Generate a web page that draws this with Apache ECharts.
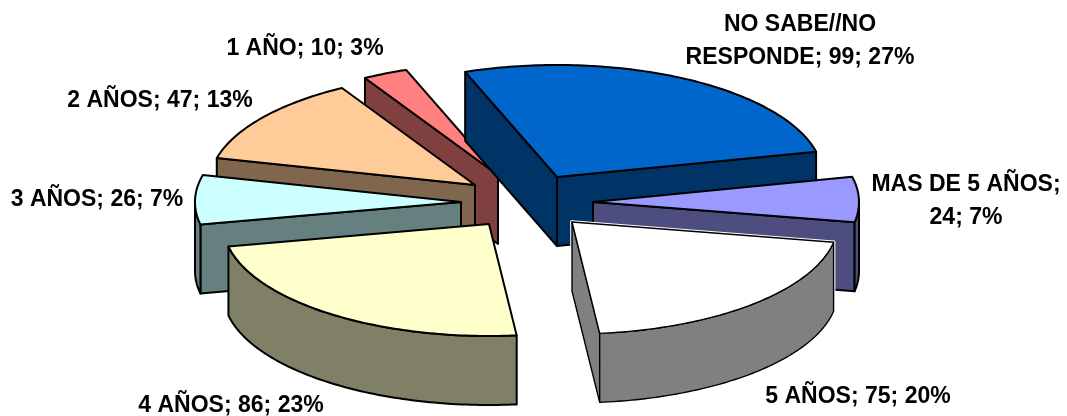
<!DOCTYPE html>
<html>
<head>
<meta charset="utf-8">
<style>html,body{margin:0;padding:0;background:#fff}#c{width:1067px;height:416px}</style>
<script src="https://cdn.jsdelivr.net/npm/echarts@6/dist/echarts.min.js"></script>
</head>
<body>
<div id="c"></div>
<script>
var categories = ['NO SABE//NO RESPONDE', 'MAS DE 5 AÑOS', '5 AÑOS', '4 AÑOS', '3 AÑOS', '2 AÑOS', '1 AÑO'];
var values = [99, 24, 75, 86, 26, 47, 10];
var topColors = ['#0066CC', '#9999FF', '#FFFFFF', '#FFFFCC', '#CCFFFF', '#FFCC99', '#FF8080'];
var wallColors = ['#003366', '#4D4D80', '#808080', '#808066', '#668080', '#80664D', '#804040'];
var apexX = [557, 593, 572, 489, 461, 475, 498];
var apexY = [177, 202, 222, 224, 202, 185, 175];
var labelLines = [['NO SABE//NO', 'RESPONDE; 99; 27%'], ['MAS DE 5 AÑOS;', '24; 7%'], ['5 AÑOS; 75; 20%'], ['4 AÑOS; 86; 23%'], ['3 AÑOS; 26; 7%'], ['2 AÑOS; 47; 13%'], ['1 AÑO; 10; 3%']];
var labelX = [800, 966, 858, 231, 97, 160, 305];
var labelY = [41, 201, 397, 406, 200, 101, 49];
var paintOrder = [6, 0, 5, 4, 1, 3, 2];
var haloSlice = 2;

var RX = 266, RY = 112, DEPTH = 69, START = 110.2, LINE = 2;
var total = values.reduce(function (a, b) { return a + b; }, 0);
var starts = [];
values.reduce(function (acc, v, i) { starts[i] = acc; return acc - v / total * 360; }, START);

function pt(i, deg, dz) {
  var t = deg * Math.PI / 180;
  return [apexX[i] + RX * Math.cos(t), apexY[i] - RY * Math.sin(t) + (dz || 0)];
}
function arc(i, from, to, dz) {
  var out = [], n = Math.max(2, Math.ceil(Math.abs(to - from)));
  for (var k = 0; k <= n; k++) out.push(pt(i, from + (to - from) * k / n, dz));
  return out;
}
function poly(points, fill, stroke, lw, z2) {
  return { type: 'polygon', z2: z2, shape: { points: points }, style: { fill: fill, stroke: stroke, lineWidth: lw, lineJoin: 'round' } };
}
function renderSlice(params, api) {
  var i = api.value(0);
  var a0 = starts[i], a1 = a0 - api.value(1) / total * 360;
  var apex = [apexX[i], apexY[i]], apexLow = [apexX[i], apexY[i] + DEPTH];
  var wall = wallColors[i], kids = [], base = params.dataIndex * 10;
  var isHalo = i === haloSlice;
  var lw = isHalo ? 1.4 : LINE;
  var walls = [];
  // a radial face shows only when it faces the viewer
  if (Math.cos(a0 * Math.PI / 180) < 0) walls.push([apex, pt(i, a0), pt(i, a0, DEPTH), apexLow]);
  if (Math.cos(a1 * Math.PI / 180) > 0) walls.push([apex, pt(i, a1), pt(i, a1, DEPTH), apexLow]);
  // outer curved wall: only where the rim faces the viewer (below the horizontal axis)
  for (var turn = -360; turn <= 0; turn += 360) {
    var from = Math.min(a0, turn), to = Math.max(a1, turn - 180);
    if (from > to) walls.push(arc(i, from, to, 0).concat(arc(i, to, from, DEPTH)));
  }
  var topPts = [apex].concat(arc(i, a0, a1, 0));
  if (isHalo) {
    walls.forEach(function (w, k) { kids.push(poly(w, 'none', '#fff', 3.6, base + k)); });
    kids.push(poly(topPts, 'none', '#fff', 3.6, base + 3));
  }
  walls.forEach(function (w, k) { kids.push(poly(w, wall, '#000', lw, base + 4 + k)); });
  kids.push(poly(topPts, topColors[i], '#000', lw, base + 8));
  return { type: 'group', children: kids };
}
function renderLabels(params, api) {
  var i = api.value(0);
  return {
    type: 'text', z2: 500,
    style: {
      text: labelLines[i].join('\n'), x: labelX[i], y: labelY[i],
      fill: '#000', font: 'bold 23px "Liberation Sans", Arial, sans-serif',
      lineHeight: 33, align: 'center', verticalAlign: 'middle'
    }
  };
}
var sliceData = paintOrder.map(function (i) { return { name: categories[i], value: [i, values[i]] }; });
var labelData = categories.map(function (c, i) { return { name: c, value: [i, values[i]] }; });

var chart = echarts.init(document.getElementById('c'), null, { renderer: 'canvas' });
chart.setOption({
  animation: false,
  backgroundColor: '#fff',
  tooltip: { show: false },
  series: [
    { type: 'custom', coordinateSystem: 'none', silent: true, renderItem: renderSlice, data: sliceData, z: 2 },
    { type: 'custom', coordinateSystem: 'none', silent: true, renderItem: renderLabels, data: labelData, z: 3 }
  ]
});
</script>
</body>
</html>
